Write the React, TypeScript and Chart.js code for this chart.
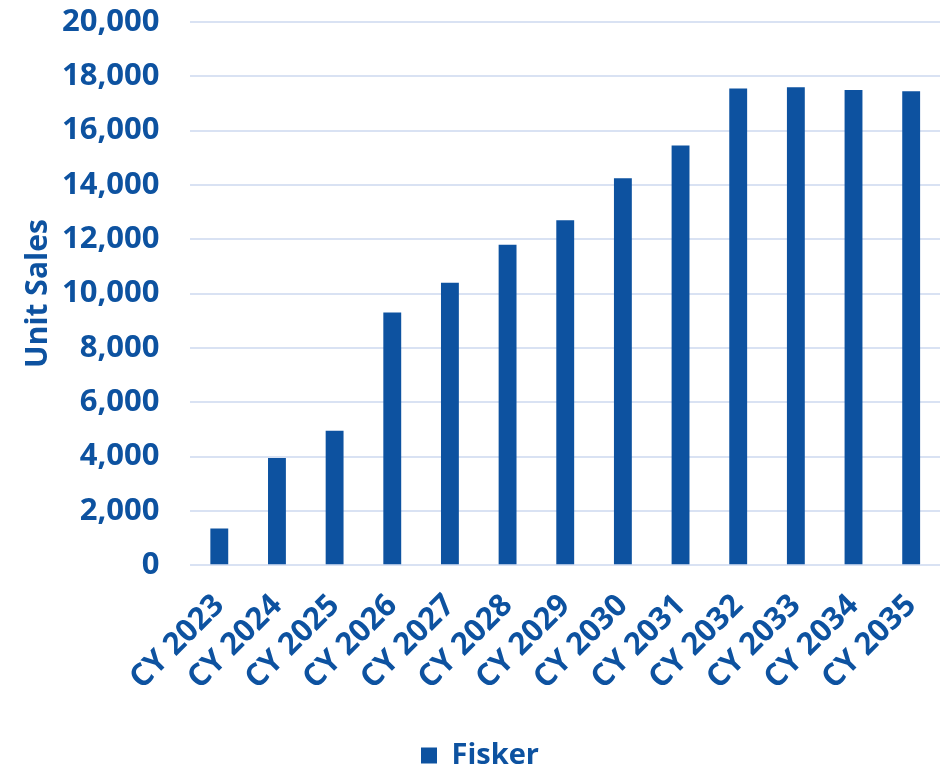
import React, { useEffect, useRef } from "react";
import { Chart, registerables } from "chart.js";

Chart.register(...registerables);

const categories = ["CY 2023", "CY 2024", "CY 2025", "CY 2026", "CY 2027", "CY 2028", "CY 2029", "CY 2030", "CY 2031", "CY 2032", "CY 2033", "CY 2034", "CY 2035"];
const fiskerSales = [1350, 3950, 4950, 9300, 10400, 11800, 12700, 14250, 15450, 17550, 17600, 17500, 17450];
const seriesName = "Fisker";
const yAxisTitle = "Unit Sales";

const BLUE = "#0D52A0";
const FONT = "'Open Sans', sans-serif";

export default function App() {
  const ref = useRef<HTMLCanvasElement | null>(null);
  useEffect(() => {
    document.body.style.margin = "0";
    const ctx = ref.current!.getContext("2d")!;
    const chart = new Chart(ctx, {
      type: "bar",
      data: {
        labels: categories,
        datasets: [
          {
            label: seriesName,
            data: fiskerSales,
            backgroundColor: BLUE,
            borderWidth: 0,
            barPercentage: 0.62,
            categoryPercentage: 0.5,
          },
        ],
      },
      options: {
        responsive: false,
        animation: false,
        maintainAspectRatio: false,
        layout: { padding: { left: 20, right: 7, top: 22, bottom: -13 } },
        plugins: {
          tooltip: { enabled: false },
          legend: {
            position: "bottom",
            labels: {
              color: BLUE,
              font: { family: FONT, size: 29, weight: "bold" },
              boxWidth: 16,
              boxHeight: 16,
              padding: 44,
            },
          },
        },
        scales: {
          x: {
            grid: {
              display: true,
              drawOnChartArea: false,
              drawTicks: true,
              tickLength: 22,
              color: "rgba(0,0,0,0)",
              tickColor: "rgba(0,0,0,0)",
            },
            border: { display: false },
            ticks: {
              color: BLUE,
              font: { family: FONT, size: 31, weight: "bold" },
              minRotation: 45,
              maxRotation: 45,
              autoSkip: false,
              padding: 0,
            },
          },
          y: {
            min: 0,
            max: 20000,
            grid: {
              color: "#D9E2F3",
              lineWidth: 2,
              drawTicks: true,
              tickLength: 31,
              tickColor: "rgba(0,0,0,0)",
            },
            border: { display: false },
            ticks: {
              stepSize: 2000,
              color: BLUE,
              font: { family: FONT, size: 31, weight: "bold" },
              padding: 0,
              callback: (v: any) => Number(v).toLocaleString("en-US"),
            },
            title: {
              display: true,
              text: yAxisTitle,
              color: BLUE,
              font: { family: FONT, size: 30, weight: "bold" },
              padding: { top: 0, bottom: 6 },
            },
          },
        },
      },
    });
    return () => chart.destroy();
  }, []);
  return <canvas ref={ref} width={947} height={767} style={{ display: "block" }} />;
}
